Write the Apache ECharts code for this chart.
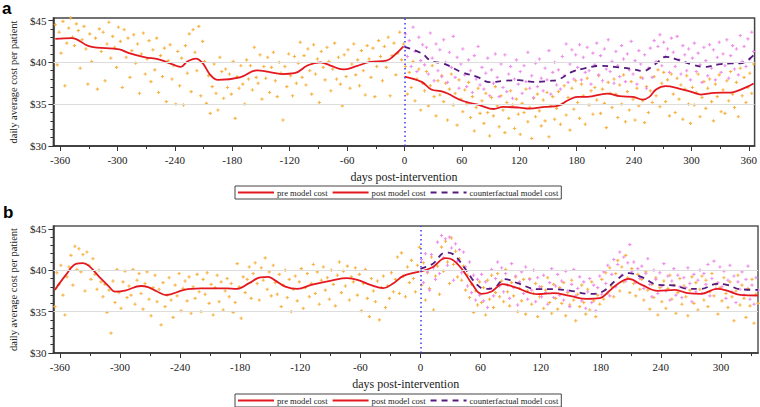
<!DOCTYPE html>
<html><head><meta charset="utf-8">
<script src="https://cdn.jsdelivr.net/npm/echarts@6/dist/echarts.min.js"></script>
<style>html,body{margin:0;padding:0;background:#fff}#c{width:760px;height:407px}</style>
</head><body><div id="c"></div>
<script>
// ---------- Panel a ----------
const preDotsA = [
44.5,39.7,43.6,41.1,44.9,37.2,42.3,44.1,45.3,43.0,
42.0,44.6,43.8,39.3,42.7,44.3,41.6,37.4,43.4,40.1,
45.4,42.9,36.8,44.0,41.3,43.6,37.8,42.2,44.8,40.5,
43.1,41.8,39.4,44.2,42.5,37.0,43.9,40.6,42.9,38.2,
41.4,43.3,39.9,42.2,36.3,41.0,43.5,38.6,40.4,42.6,
37.7,41.5,39.1,42.9,36.4,40.8,38.3,41.7,35.3,40.2,
42.1,38.0,39.6,35.0,41.3,37.2,40.5,34.9,42.0,38.7,
43.4,36.5,43.9,41.2,39.0,44.3,36.0,42.5,40.1,35.1,
38.4,33.9,37.1,39.8,36.3,34.3,40.6,38.9,35.7,39.2,
37.0,38.6,36.2,40.1,33.3,38.3,36.9,39.6,37.4,35.0,
40.3,38.0,39.6,36.7,41.8,38.2,37.5,40.9,35.6,39.5,
38.1,40.6,36.4,39.4,41.2,37.8,35.9,40.0,38.7,33.1,
39.5,37.1,41.0,38.4,36.0,40.7,37.5,39.9,42.4,38.2,
40.8,37.3,41.6,39.0,36.2,42.1,38.6,40.4,35.2,41.3,
39.4,37.9,41.8,40.1,36.6,39.2,42.3,38.0,40.6,37.4,
34.8,40.9,38.3,41.5,36.9,39.8,42.2,38.5,40.3,37.2,
41.4,39.0,36.1,42.0,40.4,38.2,41.7,35.9,39.5,42.6,
40.7,37.8,41.9,39.4,43.0,36.0,40.8,42.3,38.5,41.1,
43.6,40.3,42.2];
const postDotsA = [
39.5,36.2,38.8,37.0,40.1,35.4,38.0,39.2,34.3,37.5,
36.6,38.9,34.8,37.2,39.6,35.9,33.6,37.8,36.1,38.4,
35.3,37.5,33.1,36.8,38.6,34.9,36.3,32.5,37.9,35.6,
34.1,36.7,35.0,37.6,33.4,35.9,31.8,34.6,36.9,33.9,
35.4,32.7,36.3,34.0,31.2,35.8,33.6,37.1,34.8,32.3,
36.0,34.3,31.6,35.2,33.3,36.6,34.9,32.1,35.6,33.8,
31.4,35.1,34.0,36.8,32.9,34.6,30.9,35.7,33.5,36.2,
34.2,32.4,35.5,33.0,36.4,31.1,34.8,35.9,33.2,34.5,
36.5,32.6,35.0,37.2,33.7,35.8,31.9,36.9,34.4,37.8,
35.2,33.3,37.4,36.0,32.6,38.1,34.9,36.6,33.8,37.0,
35.5,38.4,33.9,36.8,35.1,32.2,37.6,36.3,34.6,38.0,
36.2,33.4,37.3,35.0,38.5,32.9,36.5,34.3,37.7,35.6,
33.1,36.9,34.8,38.2,35.4,32.8,37.1,34.0,36.6,35.2,
38.3,36.0,39.1,34.7,37.5,38.8,35.3,37.9,33.6,38.6,
36.2,34.0,38.1,35.6,37.3,33.2,36.8,38.4,35.0,32.7,
37.0,34.9,36.4,38.6,33.5,35.8,37.7,34.5,36.9,38.0,
35.3,33.0,37.4,35.9,38.5,34.1,36.7,33.9,37.8,35.4,
38.9,36.2,34.6,37.6,33.5,39.3,36.0,38.2,35.2,37.0,
38.7,36.3,39.8];
const cfDotsA = [
43.4,40.7,42.6,39.5,44.2,41.3,38.9,43.0,40.2,42.1,
39.7,41.8,38.6,43.5,40.5,37.8,42.2,39.0,41.5,38.3,
42.7,40.0,37.6,41.2,39.4,43.1,38.2,40.6,36.9,39.8,
41.6,38.5,37.1,40.3,39.0,36.4,40.8,38.0,41.9,37.3,
39.4,36.8,38.7,40.5,36.0,39.1,37.5,41.0,38.2,35.9,
39.8,37.0,40.9,36.5,38.6,39.5,35.7,38.0,40.3,37.4,
38.9,36.3,39.6,37.7,41.2,36.9,38.4,35.8,39.9,37.1,
40.4,38.1,36.6,39.3,37.9,41.4,36.2,38.8,40.0,37.3,
39.1,36.8,40.7,38.4,42.2,37.6,39.8,41.5,38.0,40.9,
39.4,42.1,37.9,40.6,38.8,41.8,39.0,37.4,41.1,39.7,
42.3,38.5,40.8,37.8,41.6,39.2,42.7,38.9,40.1,37.5,
41.3,39.6,38.3,42.0,40.4,37.7,41.0,39.1,42.5,38.6,
40.2,37.4,41.4,39.8,38.1,40.9,36.9,39.3,41.7,38.2,
42.6,40.1,41.9,43.3,39.6,42.4,40.7,41.6,38.8,42.9,
41.2,39.5,43.1,40.3,38.6,42.0,40.9,39.0,41.6,37.9,
40.5,42.3,38.9,41.1,39.7,37.6,41.8,40.2,38.4,42.1,
39.3,41.5,37.9,40.6,42.4,38.8,41.0,39.6,42.7,38.1,
40.8,42.0,39.2,41.6,38.5,43.2,40.1,41.9,39.5,42.8,
40.4,43.6,41.3];
const preLineDaysA = [-365,-348,-329,-298,-288,-271,-257,-241,-234,-227,-218,-211,-203,-195,-172,-154,-142,-128,-115,-101,-88,-78,-64,-50,-36,-19,-12,-1];
const preLineA = [42.8,42.9,41.9,41.55,41.1,40.6,40.35,39.7,39.45,40.1,40.45,39.9,38.5,37.9,38.2,39.05,38.85,38.6,38.7,39.65,40.0,39.65,39.15,39.55,40.05,40.2,40.7,41.9];
const postLineDaysA = [0,18,28,38,45,59,69,79,93,103,120,130,147,161,171,181,191,212,225,239,249,256,263,273,287,300,310,324,341,348,358,365];
const postLineA = [38.3,37.66,36.75,36.55,36.27,35.47,35.14,34.87,34.42,34.67,34.59,34.47,34.67,34.83,35.47,35.87,35.87,36.27,35.95,35.87,35.55,35.87,36.75,37.15,36.87,36.47,36.15,36.35,36.39,36.58,37.07,37.47];
const cfLineDaysA = [0,18,28,38,45,59,76,89,103,120,134,151,161,175,188,205,219,239,249,263,273,287,300,314,328,341,351,365];
const cfLineA = [41.86,41.07,40.14,39.94,39.66,38.86,38.26,37.63,37.78,37.87,37.66,37.78,37.95,38.86,39.27,39.58,39.46,39.18,38.95,39.87,40.66,40.26,39.75,39.46,39.75,39.87,39.87,40.86];

// ---------- Panel b ----------
const preDotsB = [
35.6,39.7,38.3,40.6,37.0,34.6,39.2,40.4,41.8,38.2,
42.9,40.1,42.6,39.8,41.9,37.5,42.2,40.6,38.9,41.4,
39.5,37.7,40.0,38.6,36.8,38.3,34.9,37.6,32.4,38.7,
36.1,40.1,37.3,35.4,38.6,39.9,36.7,38.1,37.0,40.1,
35.9,38.8,39.6,37.2,35.3,38.4,39.8,36.5,34.5,37.9,
39.4,36.2,37.7,33.4,38.5,35.6,37.0,39.1,36.4,34.3,
38.2,36.9,39.6,35.1,37.8,38.7,36.3,39.2,34.8,38.0,
36.6,39.5,37.4,35.0,38.9,37.1,39.7,36.0,38.3,34.6,
37.9,39.4,36.2,38.6,35.2,37.5,39.0,36.8,38.4,34.9,
36.1,40.8,38.0,34.2,39.2,37.3,38.9,40.4,36.6,39.6,
40.9,38.4,36.4,40.3,38.8,41.5,37.7,39.8,36.9,40.6,
38.5,37.1,39.5,35.6,38.2,40.0,36.7,38.9,35.0,37.7,
39.3,36.3,38.6,40.2,35.4,37.9,39.6,36.8,38.4,40.7,
37.2,39.8,35.9,38.8,40.4,37.6,39.1,36.5,40.0,38.3,
35.7,39.4,41.0,37.3,39.9,38.1,40.5,36.4,39.2,38.6,
40.3,37.0,39.5,35.1,38.4,40.1,36.6,34.4,39.0,37.5,
36.2,38.7,34.0,37.9,39.3,35.5,38.1,36.6,39.7,37.4,
38.9,41.6,37.2,42.1,39.3,36.8,40.4,38.5,41.2,39.0,
37.4,40.6,42.8];
const postDotsB = [
38.2,40.9,36.4,39.7,37.8,41.6,35.2,39.3,40.5,37.1,
42.8,39.9,43.5,41.0,38.4,43.9,40.7,42.3,39.2,41.4,
38.8,40.5,37.6,39.4,36.7,38.3,34.9,37.5,35.8,38.6,
36.1,37.9,34.6,38.8,36.5,39.4,35.5,37.3,39.6,36.8,
38.7,36.2,40.1,37.4,35.7,38.5,36.9,39.2,35.0,37.8,
36.3,38.9,34.7,37.5,39.0,35.9,37.2,38.4,34.4,36.8,
38.0,35.4,37.6,39.1,36.1,34.8,38.3,36.6,35.3,37.9,
36.0,38.5,34.5,37.3,35.8,38.8,36.4,33.9,37.1,35.6,
38.2,36.1,34.7,37.7,35.2,38.6,36.3,34.4,37.0,35.9,
38.9,36.5,39.7,37.2,40.3,38.0,36.8,39.6,41.2,37.5,
40.4,38.6,41.8,39.1,37.3,40.2,38.4,36.9,39.5,37.7,
38.9,36.4,39.8,37.6,35.3,38.3,36.7,39.1,34.6,37.9,
36.2,38.7,35.4,37.8,39.4,36.5,38.2,34.8,37.3,39.0,
35.9,38.1,36.8,34.5,37.6,39.2,36.0,38.5,35.2,37.7,
39.3,36.4,38.8,35.6,37.4,39.6,36.9,38.3,34.7,37.9,
36.3,39.1,37.2,35.5,38.6,36.8,33.9,37.5,39.4,35.8,
38.2,36.6,34.3,37.8,35.7,38.9,33.6,37.1,36.0];
const cfDotsB = [
41.3,38.5,42.0,39.8,37.6,41.9,40.3,38.9,43.4,39.6,
44.2,41.5,43.8,40.6,44.0,42.7,38.8,43.2,41.1,42.5,
39.7,42.2,40.4,38.1,41.0,37.3,39.4,36.4,38.9,37.0,
39.5,36.3,38.6,35.5,37.8,40.1,36.9,39.0,41.0,38.1,
40.3,37.4,39.6,38.2,36.6,40.8,37.9,39.3,35.8,38.6,
39.8,37.2,40.4,36.5,38.9,37.6,40.0,36.2,39.1,38.0,
36.8,39.4,37.3,35.9,38.5,40.2,36.7,38.1,39.5,37.0,
38.7,36.4,39.9,37.5,35.6,38.3,40.1,36.9,37.8,39.2,
36.3,38.6,35.4,37.4,39.0,36.1,38.2,35.1,37.9,39.3,
37.1,39.8,38.4,40.6,36.9,39.5,41.3,38.0,40.7,42.2,
39.4,41.6,38.7,40.9,43.1,39.9,41.0,38.5,40.2,39.0,
40.5,37.8,39.6,41.4,38.3,36.8,40.0,38.9,37.2,39.7,
38.1,40.8,37.5,39.3,36.4,38.7,40.2,37.0,39.4,38.0,
36.7,39.1,37.9,40.3,38.4,36.2,39.5,37.4,38.8,40.0,
37.2,39.6,38.3,40.7,36.9,39.0,41.1,37.8,38.5,40.4,
38.0,39.9,36.6,38.8,40.6,37.4,39.3,36.1,38.6,37.7,
39.8,37.0,38.9,40.5,36.5,38.2,35.9,39.1,37.6];
const preLineDaysB = [-365,-354,-344,-337,-331,-321,-311,-305,-295,-279,-272,-263,-254,-236,-219,-193,-184,-171,-160,-152,-146,-135,-123,-109,-89,-73,-63,-50,-37,-27,-17,-1];
const preLineB = [37.63,39.44,40.77,40.86,40.53,39.24,38.03,37.43,37.55,38.1,37.96,37.43,37.0,37.63,37.8,37.82,37.75,38.44,39.15,39.2,38.84,38.03,37.75,38.24,38.76,39.04,38.84,38.24,37.84,38.44,39.32,39.84];
const postLineDaysB = [0,12,25,32,42,51,61,71,82,94,117,133,149,166,179,188,198,208,221,237,254,267,280,296,306,319,337];
const postLineB = [39.84,40.37,41.46,41.26,40.05,38.44,37.15,37.43,38.32,37.96,37.11,37.23,36.9,36.55,36.63,37.43,38.44,38.96,38.24,37.51,37.63,37.23,37.15,37.75,37.55,37.03,36.95];
const cfLineDaysB = [0,12,25,32,45,55,64,74,84,97,117,133,149,169,182,195,208,221,237,254,267,280,296,306,319,337];
const cfLineB = [40.17,40.77,42.14,41.98,40.13,38.44,37.75,37.91,38.94,38.44,37.71,37.71,37.55,37.15,37.43,38.76,39.65,39.17,38.24,38.16,37.75,37.75,38.36,38.24,37.71,37.63];

// ---------- axes / labels ----------
const xMajorA = [-360,-300,-240,-180,-120,-60,0,60,120,180,240,300,360];
const xMinorA = [-330,-270,-210,-150,-90,-30,30,90,150,210,270,330];
const xMajorB = [-360,-300,-240,-180,-120,-60,0,60,120,180,240,300];
const xMinorB = [-330,-270,-210,-150,-90,-30,30,90,150,210,270,330];
const yMajor = [30,35,40,45];
const yMinor = [31,32,33,34,36,37,38,39,41,42,43,44];
const gridLevels = [35,40];
const legendNames = ['pre model cost','post model cost','counterfactual model cost'];
const xName = 'days post-intervention';
const yName = 'daily average cost per patient';

const dots = (start, step, vals) => vals.map((v, i) => [start + i * step, v]);
const pairs = (days, vals) => days.map((d, i) => [d, vals[i]]);

const SERIF = 'Liberation Serif';
const ORANGE = '#f7b03c', PINK = '#ec8be9', RED = '#e3191f', PURPLE = '#551a7e';
const PLUS = 'path://M1,0H2V1H3V2H2V3H1V2H0V1H1Z';

function axesFor(gi, xmin, xmax, xMaj, xMin) {
  return [
    { type:'value', gridIndex:gi, min:xmin, max:xmax, position:'bottom',
      name:xName, nameLocation:'middle', nameGap:25,
      nameTextStyle:{fontFamily:SERIF, fontSize:12, color:'#222'},
      axisLine:{show:true, onZero:false, lineStyle:{color:'#333', width:1.5}},
      axisTick:{show:true, length:5, customValues:xMaj, lineStyle:{color:'#333'}},
      axisLabel:{customValues:xMaj, margin:8, fontFamily:SERIF, fontSize:11, color:'#222'},
      splitLine:{show:false} },
    { type:'value', gridIndex:gi, min:xmin, max:xmax, position:'bottom',
      axisLine:{show:false, onZero:false},
      axisTick:{show:true, length:3, customValues:xMin, lineStyle:{color:'#333'}},
      axisLabel:{show:false}, splitLine:{show:false} }
  ];
}
function yAxesFor(gi, ymax) {
  return [
    { type:'value', gridIndex:gi, min:30, max:ymax, position:'left',
      name:yName, nameLocation:'middle', nameGap:29, nameRotate:90,
      nameTextStyle:{fontFamily:SERIF, fontSize:10.5, color:'#222'},
      axisLine:{show:true, onZero:false, lineStyle:{color:'#333', width:1.5}},
      axisTick:{show:true, length:5, customValues:yMajor, lineStyle:{color:'#333'}},
      axisLabel:{customValues:yMajor, margin:7, fontFamily:SERIF, fontSize:11, color:'#222',
        formatter:v => '$' + v},
      splitLine:{show:false} },
    { type:'value', gridIndex:gi, min:30, max:ymax, position:'left',
      axisLine:{show:false, onZero:false},
      axisTick:{show:true, length:3, customValues:yMinor, lineStyle:{color:'#333'}},
      axisLabel:{show:false}, splitLine:{show:false} }
  ];
}

function seriesFor(xi, yi, pre, post, cf, preL, postL, cfL) {
  const sc = (data, color) => ({ type:'scatter', xAxisIndex:xi, yAxisIndex:yi, data,
    symbol:PLUS, symbolSize:3.3, itemStyle:{color, opacity:0.95}, silent:true, z:2 });
  const ln = (name, data, color, dashed) => ({ type:'line', name, xAxisIndex:xi, yAxisIndex:yi, data,
    smooth:0.4, symbol:'none', showSymbol:false, silent:true, z:4,
    lineStyle:{color, width:1.8, type: dashed ? [6,5] : 'solid'}, itemStyle:{color} });
  return [
    { type:'line', xAxisIndex:xi, yAxisIndex:yi, data:[], silent:true, z:1,
      markLine:{ silent:true, symbol:'none', animation:false, label:{show:false},
        lineStyle:{color:'#dddddd', width:1, type:'solid'},
        data: gridLevels.map(v => ({yAxis:v})) } },
    sc(pre, ORANGE), sc(post, ORANGE), sc(cf, PINK),
    ln('counterfactual model cost', cfL, PURPLE, true),
    ln('pre model cost', preL, RED, false),
    { ...ln('post model cost', postL, RED, false),
      markLine:{ silent:true, symbol:'none', animation:false, label:{show:false},
        lineStyle:{color:'#3a3aee', width:1.5, type:[1.5,3]}, data:[{xAxis:0}] } }
  ];
}

const legendCfg = top => ({ left:235, top, data:legendNames, orient:'horizontal',
  itemWidth:36, itemHeight:2, itemGap:4, padding:[2,3,2,2],
  borderColor:'#444', borderWidth:1, selectedMode:false,
  itemStyle:{opacity:0},
  textStyle:{fontFamily:SERIF, fontSize:8.6, color:'#222', padding:[0,0,0,-2]} });

const chart = echarts.init(document.getElementById('c'), null, {renderer:'svg'});
chart.setOption({
  animation:false,
  backgroundColor:'#fff',
  grid:[
    {left:40, top:18, width:718, height:128, show:true, borderColor:'#444', borderWidth:1.5, backgroundColor:'transparent'},
    {left:40, top:226, width:718, height:127, show:true, borderColor:'#555', borderWidth:1.5, backgroundColor:'transparent'}
  ],
  xAxis:[...axesFor(0,-367,366,xMajorA,xMinorA), ...axesFor(1,-366.5,337,xMajorB,xMinorB)],
  yAxis:[...yAxesFor(0,45.3), ...yAxesFor(1,45.35)],
  legend:[legendCfg(186), legendCfg(394)],
  graphic:[
    {type:'text', left:2, top:0, style:{text:'a', font:'bold 17px Liberation Sans', fill:'#000'}},
    {type:'text', left:3, top:204, style:{text:'b', font:'bold 17px Liberation Sans', fill:'#000'}}
  ],
  series:[
    ...seriesFor(0,0, dots(-365,2,preDotsA), dots(1,2,postDotsA), dots(1,2,cfDotsA),
      pairs(preLineDaysA,preLineA), pairs(postLineDaysA,postLineA), pairs(cfLineDaysA,cfLineA)),
    ...seriesFor(2,2, dots(-365,2,preDotsB), dots(1,2,postDotsB), dots(1,2,cfDotsB),
      pairs(preLineDaysB,preLineB), pairs(postLineDaysB,postLineB), pairs(cfLineDaysB,cfLineB))
  ]
});
</script></body></html>
